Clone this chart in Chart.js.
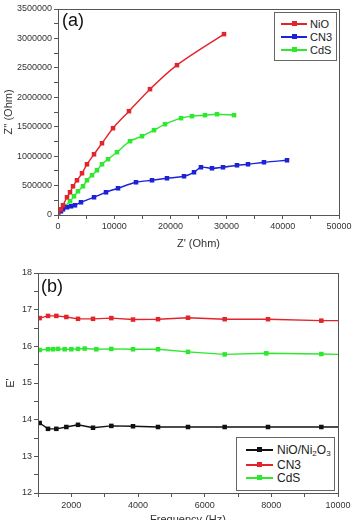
<!DOCTYPE html>
<html>
<head>
<meta charset="utf-8">
<script src="https://cdn.jsdelivr.net/npm/chart.js@4/dist/chart.umd.min.js"></script>
<style>
  html, body { margin: 0; padding: 0; background: #fff; overflow: hidden; }
  body { width: 355px; height: 520px; position: relative; font-family: "Liberation Sans", Arial, sans-serif; color: #222; }
  canvas { position: absolute; left: 0; }
  #chart-a { top: 0; }
  #chart-b { top: 258px; }
  .tag { position: absolute; font-size: 18px; color: #111; }
  .legend { position: absolute; border: 1px solid #666; background: #fff; }
  .row { position: absolute; left: 0; height: 12px; line-height: 12px; white-space: nowrap; }
  .row .ln { position: absolute; top: 5px; height: 1.5px; }
  .row .mk { position: absolute; top: 3px; width: 5px; height: 5px; }
  .row .tx { position: absolute; top: 0; }
  sub { font-size: 8px; vertical-align: -2px; line-height: 0; }
</style>
</head>
<body>
<canvas id="chart-a" width="355" height="258"></canvas>
<canvas id="chart-b" width="355" height="272"></canvas>
<div class="tag" style="left:62px; top:10px;">(a)</div>
<div class="tag" style="left:41px; top:276px;">(b)</div>
<div id="legend-a" class="legend" style="left:274px; top:12px; width:61px; height:47px;"></div>
<div id="legend-b" class="legend" style="left:236px; top:437px; width:97px; height:52px;"></div>
<script>
  // (a) Nyquist plot: Z' vs Z''
  const nioX = [0, 530, 890, 1600, 2140, 2670, 3380, 4270, 5160, 6410, 7830, 9790, 12630, 16370, 21170, 29540];
  const nioY = [0, 97000, 165000, 301000, 386000, 488000, 590000, 709000, 862000, 1032000, 1219000, 1475000, 1764000, 2138000, 2546000, 3073000];

  const cn3X = [0, 530, 890, 1600, 2310, 3020, 4090, 6410, 8540, 10680, 13880, 16730, 19390, 22420, 24200, 25440, 27400, 29360, 31850, 33810, 36650, 40750];
  const cn3Y = [0, 63000, 97000, 131000, 148000, 165000, 216000, 301000, 386000, 454000, 556000, 590000, 624000, 658000, 726000, 811000, 794000, 811000, 845000, 862000, 896000, 930000];

  const cdsX = [0, 1250, 2140, 2850, 3560, 4450, 5160, 6050, 6940, 7830, 8900, 10500, 12810, 14950, 17080, 19040, 21890, 23840, 26160, 28290, 31320];
  const cdsY = [0, 148000, 233000, 318000, 403000, 488000, 590000, 675000, 760000, 862000, 948000, 1067000, 1254000, 1339000, 1441000, 1543000, 1645000, 1679000, 1696000, 1713000, 1696000];

  // (b) dielectric constant vs frequency
  const freqB = [1050, 1300, 1550, 1850, 2200, 2650, 3200, 3850, 4600, 5500, 6600, 7900, 9500, 10000];
  const nioB = [13.91, 13.75, 13.75, 13.80, 13.86, 13.78, 13.83, 13.82, 13.80, 13.80, 13.80, 13.80, 13.80, 13.80];
  const cn3B = [16.77, 16.83, 16.83, 16.80, 16.75, 16.75, 16.77, 16.73, 16.74, 16.78, 16.74, 16.74, 16.70, 16.70];
  const freqCdsB = [1050, 1300, 1450, 1600, 1800, 2000, 2200, 2400, 2750, 3200, 3850, 4600, 5500, 6600, 7850, 9500, 10000];
  const cdsB = [15.90, 15.92, 15.92, 15.93, 15.92, 15.92, 15.93, 15.94, 15.92, 15.93, 15.92, 15.92, 15.85, 15.78, 15.81, 15.79, 15.78];

  const RED = '#e3242b', BLUE = '#1c22d8', GREEN = '#2ee82e', BLACK = '#111';
  const AXIS = '#555';
  const tickFont = { family: '"Liberation Sans", Arial, sans-serif', size: 9 };
  const titleFont = { family: '"Liberation Sans", Arial, sans-serif', size: 11 };

  const pts = (xs, ys) => xs.map((x, i) => ({ x, y: ys[i] }));

  const frame = {
    id: 'frame',
    afterDraw(chart) {
      const { ctx, chartArea: a } = chart;
      ctx.save();
      ctx.strokeStyle = AXIS;
      ctx.lineWidth = 1;
      ctx.strokeRect(a.left + 0.5, a.top + 0.5, a.right - a.left, a.bottom - a.top);
      ctx.restore();
    }
  };

  function series(label, data, color, tension, lastBare) {
    return {
      label, data,
      showLine: true,
      borderColor: color,
      backgroundColor: color,
      borderWidth: 1.4,
      tension,
      pointStyle: 'rect',
      pointRadius: lastBare ? (c => c.dataIndex === data.length - 1 ? 0 : 3.2) : 3.2,
      pointBorderWidth: 0,
    };
  }

  function axis(opts) {
    return Object.assign({
      type: 'linear',
      grid: { drawOnChartArea: false, drawTicks: true, tickLength: 4, color: AXIS },
      border: { display: true, color: AXIS },
    }, opts);
  }

  new Chart(document.getElementById('chart-a'), {
    type: 'scatter',
    data: {
      datasets: [
        series('NiO', pts(nioX, nioY), RED, 0.3),
        series('CN3', pts(cn3X, cn3Y), BLUE, 0.3),
        series('CdS', pts(cdsX, cdsY), GREEN, 0.3),
      ],
    },
    options: {
      responsive: false,
      animation: false,
      layout: { padding: { left: 0, right: 16, top: 9, bottom: 0 } },
      plugins: { legend: { display: false }, tooltip: { enabled: false } },
      scales: {
        x: axis({
          min: 0, max: 50000,
          ticks: { stepSize: 5000, autoSkip: false, maxRotation: 0, color: '#333', font: tickFont, padding: 2,
            callback: v => v % 10000 === 0 ? String(v) : '' },
          title: { display: true, text: "Z' (Ohm)", color: '#333', font: titleFont, padding: { top: 0, bottom: 7 } },
          afterFit: s => { s.height = 43; },
        }),
        y: axis({
          min: 0, max: 3500000,
          ticks: { stepSize: 250000, autoSkip: false, color: '#333', font: tickFont, padding: 2,
            callback: v => v % 500000 === 0 ? String(v) : '' },
          title: { display: true, text: "Z'' (Ohm)", color: '#333', font: titleFont, padding: { top: 2, bottom: 0 } },
          afterFit: s => { s.width = 58; },
        }),
      },
    },
    plugins: [frame],
  });

  new Chart(document.getElementById('chart-b'), {
    type: 'scatter',
    data: {
      datasets: [
        series('NiO/Ni2O3', pts(freqB, nioB), BLACK, 0, true),
        series('CN3', pts(freqB, cn3B), RED, 0, true),
        series('CdS', pts(freqCdsB, cdsB), GREEN, 0, true),
      ],
    },
    options: {
      responsive: false,
      animation: false,
      layout: { padding: { left: 0, right: 17, top: 15, bottom: 0 } },
      plugins: { legend: { display: false }, tooltip: { enabled: false } },
      scales: {
        x: axis({
          min: 1000, max: 10000,
          ticks: { stepSize: 1000, autoSkip: false, maxRotation: 0, color: '#333', font: tickFont, padding: 3,
            callback: v => (v % 2000 === 0) ? String(v) : '' },
          title: { display: true, text: 'Frequency (Hz)', color: '#333', font: titleFont, padding: { top: 0, bottom: 3 } },
          afterFit: s => { s.height = 37; },
        }),
        y: axis({
          min: 12, max: 18,
          ticks: { stepSize: 0.5, autoSkip: false, color: '#333', font: tickFont, padding: 2,
            callback: v => Number.isInteger(v) ? String(v) : '' },
          title: { display: true, text: "E'", color: '#333', font: titleFont, padding: { top: 4, bottom: 0 } },
          afterFit: s => { s.width = 38; },
        }),
      },
    },
    plugins: [frame],
  });

  function legend(id, items, lineLeft, lineW, textLeft, rowTops, fontSize) {
    document.getElementById(id).innerHTML = items.map(([label, color], i) => `
      <div class="row" style="top:${rowTops[i]}px; font-size:${fontSize}px; width:100%;">
        <span class="ln" style="left:${lineLeft}px; width:${lineW}px; background:${color};"></span>
        <span class="mk" style="left:${lineLeft + lineW / 2 - 2.5}px; background:${color};"></span>
        <span class="tx" style="left:${textLeft}px;">${label}</span>
      </div>`).join('');
  }

  legend('legend-a', [['NiO', RED], ['CN3', BLUE], ['CdS', GREEN]], 6, 26, 35, [5, 18, 31], 11);
  legend('legend-b', [['NiO/Ni<sub>2</sub>O<sub>3</sub>', BLACK], ['CN3', RED], ['CdS', GREEN]], 9, 27, 40, [6, 21, 34], 12);
</script>
</body>
</html>
